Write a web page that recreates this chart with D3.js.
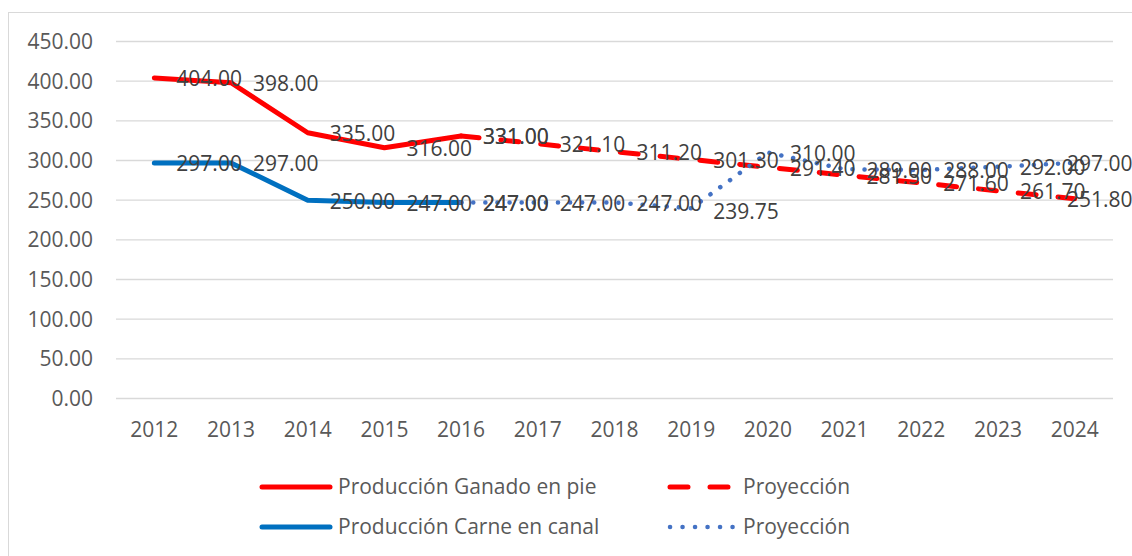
<!DOCTYPE html>
<html>
<head>
<meta charset="utf-8">
<script src="https://cdn.jsdelivr.net/npm/d3@7"></script>
<style>
  body { margin: 0; background: #fff; }
  text { font-family: "Open Sans", "Noto Sans", sans-serif; }
</style>
</head>
<body>
<svg></svg>
<script>
const years = ["2012", "2013", "2014", "2015", "2016", "2017", "2018", "2019", "2020", "2021", "2022", "2023", "2024"];
const ganadoYears = ["2012", "2013", "2014", "2015", "2016"];
const ganado = [404, 398, 335, 316, 331];
const ganadoProyYears = ["2016", "2017", "2018", "2019", "2020", "2021", "2022", "2023", "2024"];
const ganadoProy = [331, 321.1, 311.2, 301.3, 291.4, 281.5, 271.6, 261.7, 251.8];
const carneYears = ["2012", "2013", "2014", "2015", "2016"];
const carne = [297, 297, 250, 247, 247];
const carneProyYears = ["2016", "2017", "2018", "2019", "2020", "2021", "2022", "2023", "2024"];
const carneProy = [247, 247, 247, 239.75, 310, 289, 288, 292, 297];
const yTicks = [0, 50, 100, 150, 200, 250, 300, 350, 400, 450];

function lineChart() {
  const width = 1132;
  const height = 556;
  const marginLeft = 116;
  const marginRight = 19;
  const marginTop = 41.5;
  const plotBottom = 398.5;
  const labelMaxX = 1067;
  const fs = 21;

  const svg = d3.select("svg").attr("width", width).attr("height", height);

  // chart frame
  svg.append("rect")
    .attr("x", 8.5).attr("y", 12.5)
    .attr("width", 1150).attr("height", 600)
    .attr("fill", "none").attr("stroke", "#d9d9d9");

  const x = d3.scaleBand(years, [marginLeft, width - marginRight]);
  const cx = (d) => x(d) + x.bandwidth() / 2;
  const y = d3.scaleLinear([0, 450], [plotBottom, marginTop]);

  // gridlines
  svg.append("g")
    .selectAll("line")
    .data(yTicks)
    .join("line")
    .attr("x1", marginLeft).attr("x2", width - marginRight)
    .attr("y1", (d) => y(d)).attr("y2", (d) => y(d))
    .attr("stroke", "#d9d9d9").attr("stroke-width", 1.3);

  // y axis labels
  svg.append("g")
    .selectAll("text")
    .data(yTicks)
    .join("text")
    .attr("x", 93).attr("y", (d) => y(d))
    .attr("dy", "0.35em")
    .attr("text-anchor", "end")
    .attr("font-size", fs)
    .attr("fill", "#595959")
    .text((d) => d.toFixed(2));

  // x axis labels
  svg.append("g")
    .selectAll("text")
    .data(years)
    .join("text")
    .attr("x", (d) => cx(d)).attr("y", 430)
    .attr("dy", "0.35em")
    .attr("text-anchor", "middle")
    .attr("font-size", fs)
    .attr("fill", "#595959")
    .text((d) => d);

  const series = [
    { yrs: ganadoYears, vals: ganado, color: "#ff0000", dash: null, w: 5 },
    { yrs: carneYears, vals: carne, color: "#0070c0", dash: null, w: 5 },
    { yrs: ganadoProyYears, vals: ganadoProy, color: "#ff0000", dash: "18,22", w: 5 },
    { yrs: carneProyYears, vals: carneProy, color: "#4472c4", dash: "0.1,12", w: 4.5 },
  ];

  const line = d3.line().x((d) => cx(d[0])).y((d) => y(d[1]));

  series.forEach((s) => {
    const pts = s.yrs.map((yr, i) => [yr, s.vals[i]]);
    svg.append("path")
      .datum(pts)
      .attr("d", line)
      .attr("fill", "none")
      .attr("stroke", s.color)
      .attr("stroke-width", s.w)
      .attr("stroke-linecap", "round")
      .attr("stroke-linejoin", "round")
      .attr("stroke-dasharray", s.dash);
  });

  // data labels, to the right of each point
  series.forEach((s) => {
    const pts = s.yrs.map((yr, i) => [yr, s.vals[i]]);
    svg.append("g")
      .selectAll("text")
      .data(pts)
      .join("text")
      .attr("x", (d) => Math.min(cx(d[0]) + 22, labelMaxX))
      .attr("y", (d) => y(d[1]) + (d[1] === 239.75 ? 3 : 1))
      .attr("dy", "0.35em")
      .attr("font-size", fs)
      .attr("fill", "#404040")
      .text((d) => d[1].toFixed(2));
  });

  // legend
  const legend = [
    { label: "Producción Ganado en pie", color: "#ff0000", dash: null, w: 5, lx: 260, ly: 487 },
    { label: "Proyección", color: "#ff0000", dash: "18,22", w: 5, lx: 668, ly: 487 },
    { label: "Producción Carne en canal", color: "#0070c0", dash: null, w: 5, lx: 260, ly: 527 },
    { label: "Proyección", color: "#4472c4", dash: "0.1,12.4", w: 4.5, lx: 668, ly: 527 },
  ];
  const lg = svg.append("g");
  lg.selectAll("line")
    .data(legend)
    .join("line")
    .attr("x1", (d) => d.lx + 2).attr("x2", (d) => d.lx + 70)
    .attr("y1", (d) => d.ly).attr("y2", (d) => d.ly)
    .attr("stroke", (d) => d.color)
    .attr("stroke-width", (d) => d.w)
    .attr("stroke-linecap", "round")
    .attr("stroke-dasharray", (d) => d.dash);
  lg.selectAll("text")
    .data(legend)
    .join("text")
    .attr("x", (d) => d.lx + (d.lx === 260 ? 78 : 75)).attr("y", (d) => d.ly)
    .attr("dy", "0.35em")
    .attr("font-size", fs)
    .attr("fill", "#595959")
    .text((d) => d.label);
}

lineChart();
</script>
</body>
</html>
